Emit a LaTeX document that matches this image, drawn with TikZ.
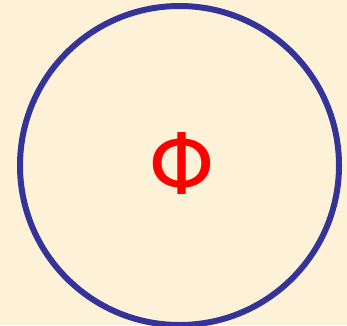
\documentclass[tikz,border=0pt]{standalone}
\usepackage{fontspec}
\newfontfamily\phifont{DejaVu Sans}
\definecolor{cream}{RGB}{253,242,216}
\definecolor{ringblue}{RGB}{51,51,153}
\begin{document}
\begin{tikzpicture}[x=1pt,y=1pt]

\tikzset{myring/.style={circle, draw=ringblue, line width=6pt, minimum size=319pt, inner sep=0pt}}
\tikzset{mylabel/.style={text=red, inner sep=0pt, font=\phifont\fontsize{85}{85}\selectfont}}

\useasboundingbox (0,0) rectangle (347,325);
\fill[cream] (0,0) rectangle (347,325);

\node[myring] (ring) at (179.5,159.5) {};
\node[mylabel] (phi) at (181.5,161) {Φ};

\end{tikzpicture}
\end{document}
